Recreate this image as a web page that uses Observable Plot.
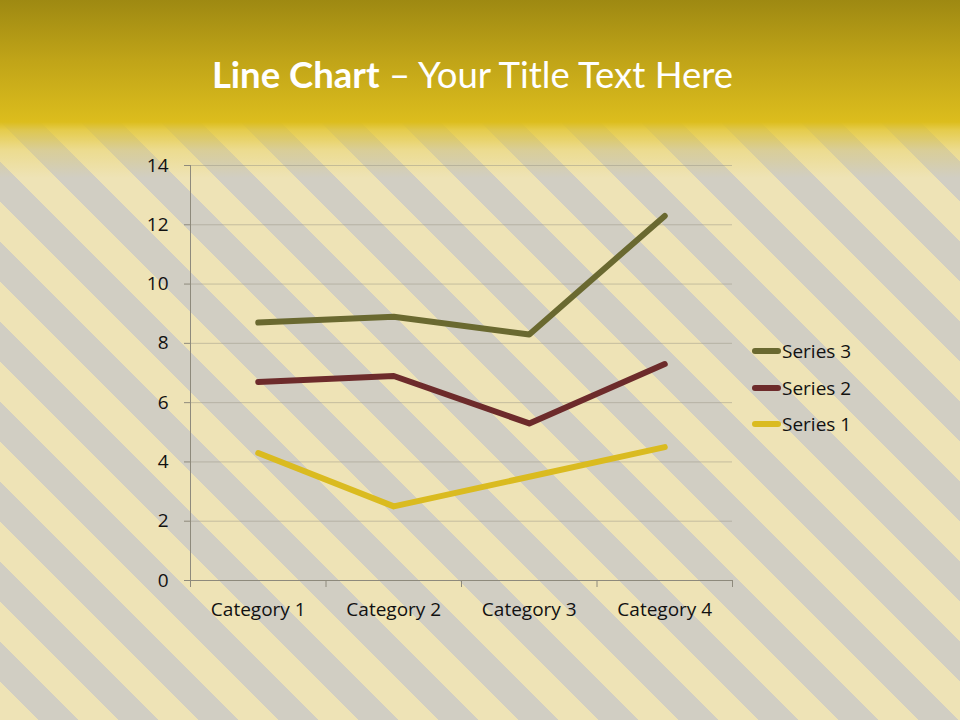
<!DOCTYPE html>
<html>
<head>
<meta charset="utf-8">
<script src="https://cdn.jsdelivr.net/npm/d3@7"></script>
<script src="https://cdn.jsdelivr.net/npm/@observablehq/plot@0.6"></script>
<style>
  html, body { margin: 0; padding: 0; }
  body { width: 960px; height: 720px; overflow: hidden; position: relative; font-family: "Open Sans", Lato, sans-serif; }
  #bg { position: absolute; left: 0; top: 0; width: 960px; height: 720px;
    background: repeating-linear-gradient(45deg, #eee3b6 0px, #eee3b6 26.9px, #d1cec3 26.9px, #d1cec3 55.2px, #eee3b6 55.2px, #eee3b6 56.57px); }
  #hdr { position: absolute; left: 0; top: 0; width: 960px; height: 180px;
    background: linear-gradient(180deg, #9e8912 0px, #c0a418 60px, #dcbd1d 122px, rgba(226,196,40,0.75) 130px, rgba(232,205,70,0.35) 150px, rgba(232,205,70,0) 178px); }
  #title { position: absolute; left: 0; width: 945px; top: 52px; text-align: center; color: #fff; font-family: Lato, sans-serif; font-size: 36.5px; line-height: 44px; }
  #title b { font-weight: 700; }
  #chart { position: absolute; left: 0; top: 0; }
  #legend { position: absolute; left: 752px; top: 333px; }
  .li { display: flex; align-items: center; height: 36.5px; font-size: 19px; color: #111; }
  .sw { width: 29px; height: 6px; border-radius: 3px; margin-right: 1px; }
</style>
</head>
<body>
<div id="bg"></div>
<div id="hdr"></div>
<div id="title"><b>Line Chart</b> – Your Title Text Here</div>
<div id="chart"></div>
<div id="legend"></div>
<script>
const categories = ["Category 1", "Category 2", "Category 3", "Category 4"];
const seriesNames = ["Series 1", "Series 2", "Series 3"];
const series1 = [4.3, 2.5, 3.5, 4.5];
const series2 = [2.4, 4.4, 1.8, 2.8];
const series3 = [2, 2, 3, 5];
const colors = ["#dabb20", "#6d2b2b", "#6a6930"];
const yTicks = [0, 2, 4, 6, 8, 10, 12, 14];

// stacked line chart: cumulative values
const raw = [series1, series2, series3];
const rows = [];
const cum = categories.map(() => 0);
raw.forEach((vals, s) => {
  vals.forEach((v, i) => {
    cum[i] += v;
    rows.push({series: seriesNames[s], idx: i, cat: categories[i], value: cum[i]});
  });
});

const font = "'Open Sans', Lato, sans-serif";
const plot = Plot.plot({
  width: 960,
  height: 720,
  marginLeft: 190,
  marginRight: 228,
  marginTop: 165,
  marginBottom: 140,
  style: {background: "transparent", fontFamily: font, fontSize: "19px", color: "#111"},
  x: {type: "linear", domain: [0, categories.length], label: null},
  y: {domain: [0, 14], label: null},
  color: {domain: seriesNames, range: colors},
  marks: [
    Plot.gridY(yTicks, {stroke: "#9c9888", strokeOpacity: 0.5}),
    Plot.ruleX([0], {stroke: "#8e8a7c"}),
    Plot.ruleY([0], {stroke: "#8e8a7c"}),
    Plot.axisY(yTicks, {tickSize: 6, tickPadding: 16, stroke: "#8e8a7c", fill: "#111", fontSize: 19, label: null}),
    Plot.axisX(d3.range(categories.length + 1), {tickSize: 7, tickFormat: () => "", stroke: "#8e8a7c", label: null}),
    Plot.axisX(categories.map((c, i) => i + 0.5), {tickSize: 0, tickPadding: 22, tickFormat: d => categories[Math.floor(d)], fill: "#111", fontSize: 19, label: null}),
    Plot.line(rows, {x: d => d.idx + 0.5, y: "value", z: "series", stroke: "series", strokeWidth: 6, strokeLinecap: "round", strokeLinejoin: "round"})
  ]
});
document.getElementById("chart").appendChild(plot);

const legend = document.getElementById("legend");
[2, 1, 0].forEach(s => {
  const div = document.createElement("div");
  div.className = "li";
  div.innerHTML = `<span class="sw" style="background:${colors[s]}"></span><span>${seriesNames[s]}</span>`;
  legend.appendChild(div);
});
</script>
</body>
</html>
